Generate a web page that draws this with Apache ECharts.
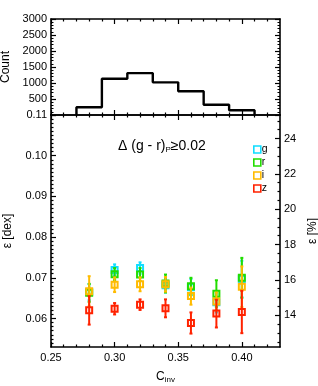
<!DOCTYPE html>
<html><head><meta charset="utf-8">
<script src="https://cdn.jsdelivr.net/npm/echarts@6/dist/echarts.min.js"></script>
<style>html,body{margin:0;padding:0;background:#fff}#c{width:318px;height:386px}</style>
</head><body><div id="c"></div>
<script>
// ---- data ----
const binStarts = [0.27, 0.29, 0.31, 0.33, 0.35, 0.37, 0.39];
const binWidth = 0.02;
const binCounts = [240, 1135, 1310, 1020, 740, 320, 150];

const cinv = [0.28, 0.30, 0.32, 0.34, 0.36, 0.38, 0.40];
const gVal = [0.0665, 0.0719, 0.0724, 0.0682, 0.0677, 0.0640, 0.0697];
const gErr = [0.0020, 0.0014, 0.0014, 0.0018, 0.0020, 0.0025, 0.0045];
const rVal = [0.0663, 0.0709, 0.0708, 0.0686, 0.0679, 0.0661, 0.0700];
const rErr = [0.0022, 0.0015, 0.0016, 0.0022, 0.0021, 0.0033, 0.0049];
const iVal = [0.0667, 0.0683, 0.0684, 0.0684, 0.0655, 0.0642, 0.0678];
const iErr = [0.0037, 0.0018, 0.0017, 0.0018, 0.0021, 0.0022, 0.0050];
const zVal = [0.0620, 0.0624, 0.0634, 0.0625, 0.0589, 0.0612, 0.0616];
const zErr = [0.0035, 0.0014, 0.0013, 0.0022, 0.0026, 0.0034, 0.0052];

const bandNames = ['g', 'r', 'i', 'z'];
const bandColors = ['#11ddff', '#22dd00', '#ffbb00', '#ff2200'];

const xTicks = [0.25, 0.30, 0.35, 0.40];
const countTicks = [500, 1000, 1500, 2000, 2500, 3000];
const dexTicks = [0.06, 0.07, 0.08, 0.09, 0.10, 0.11];
const pctTicks = [14, 16, 18, 20, 22, 24];

// ---- layout / scales ----
const DEX2PCT = 100 * Math.LN10;
const dexMin = 0.053, dexMax = 0.11;
const FONT = 'Liberation Sans, Arial, Helvetica, sans-serif';

const xMinor = [];
for (let k = 26; k <= 42; k++) if (k % 5 !== 0) xMinor.push(k / 100);
const dexMinor = [];
for (let k = 54; k <= 110; k++) if (k % 10 !== 0) dexMinor.push(k / 1000);
const pctMinor = [];
for (let v = 12.5; v <= 25.3; v += 0.5) if (v % 2 !== 0) pctMinor.push(v);

const histData = [];
histData.push([binStarts[0], 0]);
binStarts.forEach((b, i) => { histData.push([b, binCounts[i]]); histData.push([b + binWidth, binCounts[i]]); });
histData.push([binStarts[binStarts.length - 1] + binWidth, 0]);

const LINE = { show: true, lineStyle: { color: '#000', width: 1.6 } };
function xAxisDef(grid, pos, vals, len, showLine, labels, extra) {
  return Object.assign({
    type: 'value', gridIndex: grid, position: pos, min: 0.25, max: 0.43,
    axisLine: showLine ? LINE : { show: false },
    axisTick: { show: true, inside: true, length: len, customValues: vals, lineStyle: { color: '#000', width: 1.2 } },
    axisLabel: labels ? { show: true, customValues: vals, formatter: v => v.toFixed(2), fontSize: 11, color: '#000', fontFamily: FONT, margin: 5 } : { show: false },
    splitLine: { show: false }
  }, extra || {});
}
function yCustom(grid, pos, min, max, vals, len, showLine, labels, fmt, extra) {
  return Object.assign({
    type: 'value', gridIndex: grid, position: pos, min: min, max: max,
    axisLine: showLine ? LINE : { show: false },
    axisTick: { show: true, inside: true, length: len, customValues: vals, lineStyle: { color: '#000', width: 1.2 } },
    axisLabel: labels ? { show: true, customValues: vals, formatter: fmt, fontSize: 11, color: '#000', fontFamily: FONT, margin: 4 } : { show: false },
    splitLine: { show: false }
  }, extra || {});
}

const xAxes = [
  xAxisDef(0, 'bottom', xTicks, 5, true, false),
  xAxisDef(0, 'bottom', xMinor, 2.5, false, false),
  xAxisDef(0, 'top', xTicks, 5, true, false),
  xAxisDef(0, 'top', xMinor, 2.5, false, false),
  xAxisDef(1, 'bottom', xTicks, 5, true, true, {
    name: '{a|C}{s|inv}', nameLocation: 'middle', nameGap: 22,
    nameTextStyle: { fontFamily: FONT, color: '#000', rich: { a: { fontSize: 12, fontFamily: FONT, color: '#000' }, s: { fontSize: 8, fontFamily: FONT, color: '#000', padding: [7, 0, 0, 0] } } }
  }),
  xAxisDef(1, 'bottom', xMinor, 2.5, false, false),
  xAxisDef(1, 'top', xTicks, 5, true, false),
  xAxisDef(1, 'top', xMinor, 2.5, false, false)
];

const yAxes = [
  {
    type: 'value', gridIndex: 0, position: 'left', min: 0, max: 3000, interval: 500,
    axisLine: LINE,
    axisTick: { show: true, inside: true, length: 5, lineStyle: { color: '#000', width: 1.2 } },
    minorTick: { show: true, splitNumber: 5, length: 2.5, lineStyle: { color: '#000', width: 1 } },
    axisLabel: { show: true, fontSize: 11, color: '#000', fontFamily: FONT, margin: 4, formatter: v => (countTicks.indexOf(v) >= 0 ? String(v) : '') },
    splitLine: { show: false },
    name: 'Count', nameLocation: 'middle', nameGap: 37, nameRotate: 90,
    nameTextStyle: { fontSize: 12, color: '#000', fontFamily: FONT }
  },
  {
    type: 'value', gridIndex: 0, position: 'right', min: 0, max: 3000, interval: 500,
    axisLine: LINE,
    axisTick: { show: true, inside: true, length: 5, lineStyle: { color: '#000', width: 1.2 } },
    minorTick: { show: true, splitNumber: 5, length: 2.5, lineStyle: { color: '#000', width: 1 } },
    axisLabel: { show: false }, splitLine: { show: false }
  },
  yCustom(1, 'left', dexMin, dexMax, dexTicks, 5, true, true, v => v.toFixed(2), {
    name: 'ε [dex]', nameLocation: 'middle', nameGap: 37, nameRotate: 90,
    nameTextStyle: { fontSize: 12, color: '#000', fontFamily: FONT }
  }),
  yCustom(1, 'left', dexMin, dexMax, dexMinor, 2.5, false, false),
  yCustom(1, 'right', dexMin * DEX2PCT, dexMax * DEX2PCT, pctTicks, 5, true, true, v => String(Math.round(v)), {
    name: 'ε [%]', nameLocation: 'middle', nameGap: 23, nameRotate: 90,
    nameTextStyle: { fontSize: 12, color: '#000', fontFamily: FONT }
  }),
  yCustom(1, 'right', dexMin * DEX2PCT, dexMax * DEX2PCT, pctMinor, 2.5, false, false)
];

const bandVals = [gVal, rVal, iVal, zVal];
const bandErrs = [gErr, rErr, iErr, zErr];

const series = [{
  type: 'line', xAxisIndex: 0, yAxisIndex: 0, data: histData, symbol: 'none',
  lineStyle: { color: '#000', width: 2.4 }, silent: true, z: 3
}];

bandNames.forEach((name, b) => {
  const col = bandColors[b];
  const errData = cinv.map((x, k) => [x, bandVals[b][k] - bandErrs[b][k], bandVals[b][k] + bandErrs[b][k]]);
  series.push({
    type: 'custom', name: name + '_err', xAxisIndex: 4, yAxisIndex: 2, data: errData, z: 4 + b * 2,
    renderItem: function (params, api) {
      const x = api.value(0);
      const top = api.coord([x, api.value(2)]);
      const bot = api.coord([x, api.value(1)]);
      const cw = 1.5;
      const st = { stroke: col, lineWidth: 2 };
      return {
        type: 'group', children: [
          { type: 'line', shape: { x1: top[0], y1: top[1], x2: bot[0], y2: bot[1] }, style: st },
          { type: 'line', shape: { x1: top[0] - cw, y1: top[1], x2: top[0] + cw, y2: top[1] }, style: st },
          { type: 'line', shape: { x1: bot[0] - cw, y1: bot[1], x2: bot[0] + cw, y2: bot[1] }, style: st }
        ]
      };
    }
  });
  series.push({
    type: 'scatter', name: name, xAxisIndex: 4, yAxisIndex: 2, z: 5 + b * 2,
    data: cinv.map((x, k) => [x, bandVals[b][k]]),
    symbol: 'rect', symbolSize: 6,
    itemStyle: { color: 'rgba(255,255,255,0)', borderColor: col, borderWidth: 2, opacity: 1 }
  });
});

const chart = echarts.init(document.getElementById('c'), null, { renderer: 'canvas' });
chart.setOption({
  animation: false,
  backgroundColor: '#fff',
  grid: [
    { left: 51, right: 38, top: 19, height: 96, outerBoundsMode: 'none', containLabel: false },
    { left: 51, right: 38, top: 115, height: 232, outerBoundsMode: 'none', containLabel: false }
  ],
  title: {
    text: '{a|Δ (g - r)}{s|P}{a|≥0.02}', left: 113, top: 133,
    textStyle: { fontWeight: 'normal', rich: { a: { fontSize: 14, fontWeight: 'normal', fontFamily: FONT, color: '#000' }, s: { fontSize: 8, fontWeight: 'normal', fontFamily: FONT, color: '#000', padding: [8, 0, 0, 0] } } }
  },
  legend: {
    data: bandNames, orient: 'vertical', left: 248, top: 139,
    itemWidth: 7, itemHeight: 7, itemGap: 2,
    icon: 'rect',
    textStyle: { fontSize: 10.5, fontFamily: FONT, color: '#000', lineHeight: 8, padding: [0, 0, 2, -4] },
    itemStyle: { color: 'rgba(255,255,255,0)', borderWidth: 1.6 }
  },
  xAxis: xAxes,
  yAxis: yAxes,
  series: series
});
</script>
</body></html>
